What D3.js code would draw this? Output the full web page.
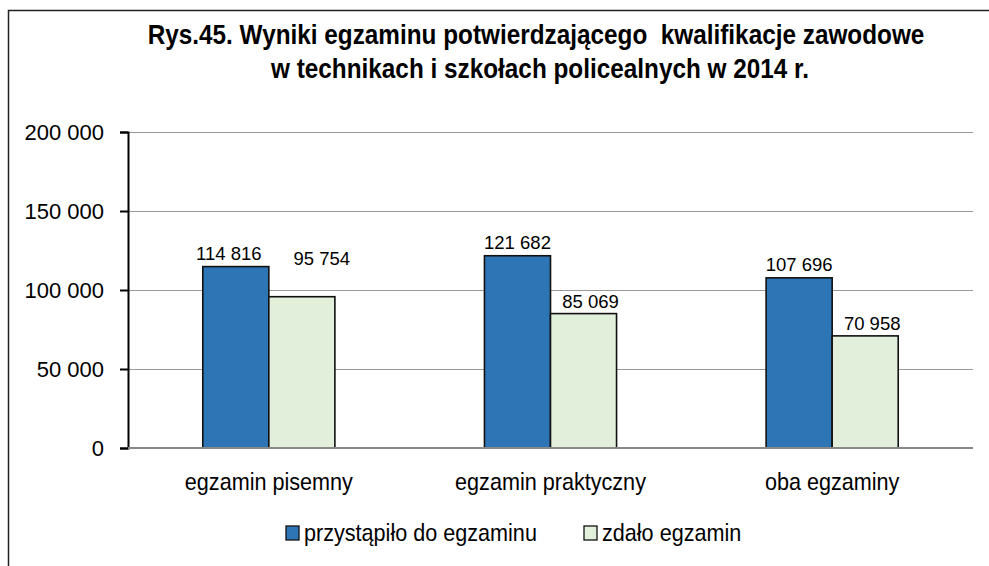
<!DOCTYPE html>
<html>
<head>
<meta charset="utf-8">
<script src="https://cdn.jsdelivr.net/npm/d3@7"></script>
<style>
  html, body { margin: 0; padding: 0; background: #fff; }
  svg { display: block; }
  text { font-family: "Liberation Sans", Arial, sans-serif; fill: #000; }
</style>
</head>
<body>
<svg id="chart" width="989" height="566"></svg>
<script>
// Exam results by exam type
const categories = ["egzamin pisemny", "egzamin praktyczny", "oba egzaminy"];
const seriesNames = ["przystąpiło do egzaminu", "zdało egzamin"];
const przystapilo = [114816, 121682, 107696];
const zdalo = [95754, 85069, 70958];
const yTicks = [0, 50000, 100000, 150000, 200000];
const titleLines = [
  "Rys.45. Wyniki egzaminu potwierdzającego  kwalifikacje zawodowe",
  "w technikach i szkołach policealnych w 2014 r."
];

const colors = ["#2E75B6", "#E2EFDA"];
const series = [przystapilo, zdalo];

const W = 989, H = 566;
const margin = { left: 128, right: 16, top: 132, bottom: 118 };
const svg = d3.select("#chart");

// condensed text: a narrow face emulated by squeezing glyphs horizontally
function narrowText(parent, x, y, str, size, sx, opts = {}) {
  const g = parent.append("g").attr("transform", `translate(${x},${y}) scale(${sx},1)`);
  const t = g.append("text")
    .attr("x", 0).attr("y", 0)
    .attr("text-anchor", opts.anchor || "start")
    .attr("xml:space", "preserve")
    .style("font-size", size + "px")
    .style("font-weight", opts.weight || "normal")
    .text(str);
  return t;
}

// outer chart frame
svg.append("rect")
  .attr("x", 8.5).attr("y", 10.5)
  .attr("width", W + 40).attr("height", H + 40)
  .attr("fill", "#fff").attr("stroke", "#222").attr("stroke-width", 1.5);

// title (bold, condensed)
const titleWidth = 777;
const t1 = narrowText(svg, 536, 44, titleLines[0], 27, 1, { anchor: "middle", weight: "bold" });
const sxTitle = titleWidth / t1.node().getComputedTextLength();
t1.node().parentNode.setAttribute("transform", `translate(536,44) scale(${sxTitle},1)`);
narrowText(svg, 540, 78, titleLines[1], 27, sxTitle, { anchor: "middle", weight: "bold" });

const x0 = d3.scaleBand()
  .domain(categories)
  .range([margin.left, W - margin.right])
  .paddingInner(0.531).paddingOuter(0.2655);
const x1 = d3.scaleBand()
  .domain(d3.range(series.length))
  .range([0, x0.bandwidth()]);
const y = d3.scaleLinear().domain([0, 200000]).range([H - margin.bottom, margin.top]);

const fmt = v => d3.format(",")(v).replace(/,/g, " ");

// horizontal gridlines
svg.append("g").selectAll("line")
  .data(yTicks.filter(d => d > 0))
  .join("line")
  .attr("x1", margin.left).attr("x2", W - margin.right)
  .attr("y1", d => Math.round(y(d)) + 0.5).attr("y2", d => Math.round(y(d)) + 0.5)
  .attr("stroke", "#9a9a9a").attr("stroke-width", 1);

// y axis
const yAxis = d3.axisLeft(y).tickValues(yTicks).tickSize(8).tickPadding(16).tickFormat(fmt);
const gy = svg.append("g").attr("transform", `translate(${margin.left},0)`).call(yAxis);
gy.select(".domain").attr("stroke", "#000").attr("stroke-width", 2);
gy.selectAll(".tick line").attr("stroke", "#000").attr("stroke-width", 2);
gy.selectAll(".tick text")
  .style("font-size", "22px")
  .style("font-family", "'Liberation Sans', Arial, sans-serif")
  .attr("fill", "#000");

// bars
const groups = svg.append("g").selectAll("g")
  .data(categories)
  .join("g")
  .attr("transform", d => `translate(${x0(d)},0)`);

groups.selectAll("rect")
  .data((c, ci) => series.map((s, si) => ({ si, v: s[ci] })))
  .join("rect")
  .attr("x", d => x1(d.si))
  .attr("y", d => y(d.v))
  .attr("width", x1.bandwidth())
  .attr("height", d => y(0) - y(d.v))
  .attr("fill", d => colors[d.si])
  .attr("stroke", "#111").attr("stroke-width", 1.6);

// value labels above the bars; labels nudged apart where they would crowd
function labelNudge(ci, si) {
  if (ci === 0) return si === 0 ? [-7, -7] : [20, -32];
  return si === 0 ? [0, -7] : [7, -6];
}
groups.selectAll("text.val")
  .data((c, ci) => series.map((s, si) => ({ si, ci, v: s[ci] })))
  .join("text")
  .attr("class", "val")
  .attr("text-anchor", "middle")
  .attr("x", d => x1(d.si) + x1.bandwidth() / 2 + labelNudge(d.ci, d.si)[0])
  .attr("y", d => y(d.v) + labelNudge(d.ci, d.si)[1])
  .style("font-size", "18.5px")
  .text(d => fmt(d.v));

// baseline
svg.append("line")
  .attr("x1", margin.left).attr("x2", W - margin.right)
  .attr("y1", y(0)).attr("y2", y(0))
  .attr("stroke", "#888").attr("stroke-width", 2);

// category labels
categories.forEach(c => {
  narrowText(svg, x0(c) + x0.bandwidth() / 2, 490, c, 24, 0.9, { anchor: "middle" });
});

// legend
const legendItems = [
  { name: seriesNames[0], color: colors[0], x: 286 },
  { name: seriesNames[1], color: colors[1], x: 584 }
];
legendItems.forEach(d => {
  svg.append("rect")
    .attr("x", d.x).attr("y", 526).attr("width", 13).attr("height", 14)
    .attr("fill", d.color).attr("stroke", "#111").attr("stroke-width", 1.3);
  narrowText(svg, d.x + 18, 541, d.name, 24, 0.9);
});
</script>
</body>
</html>
